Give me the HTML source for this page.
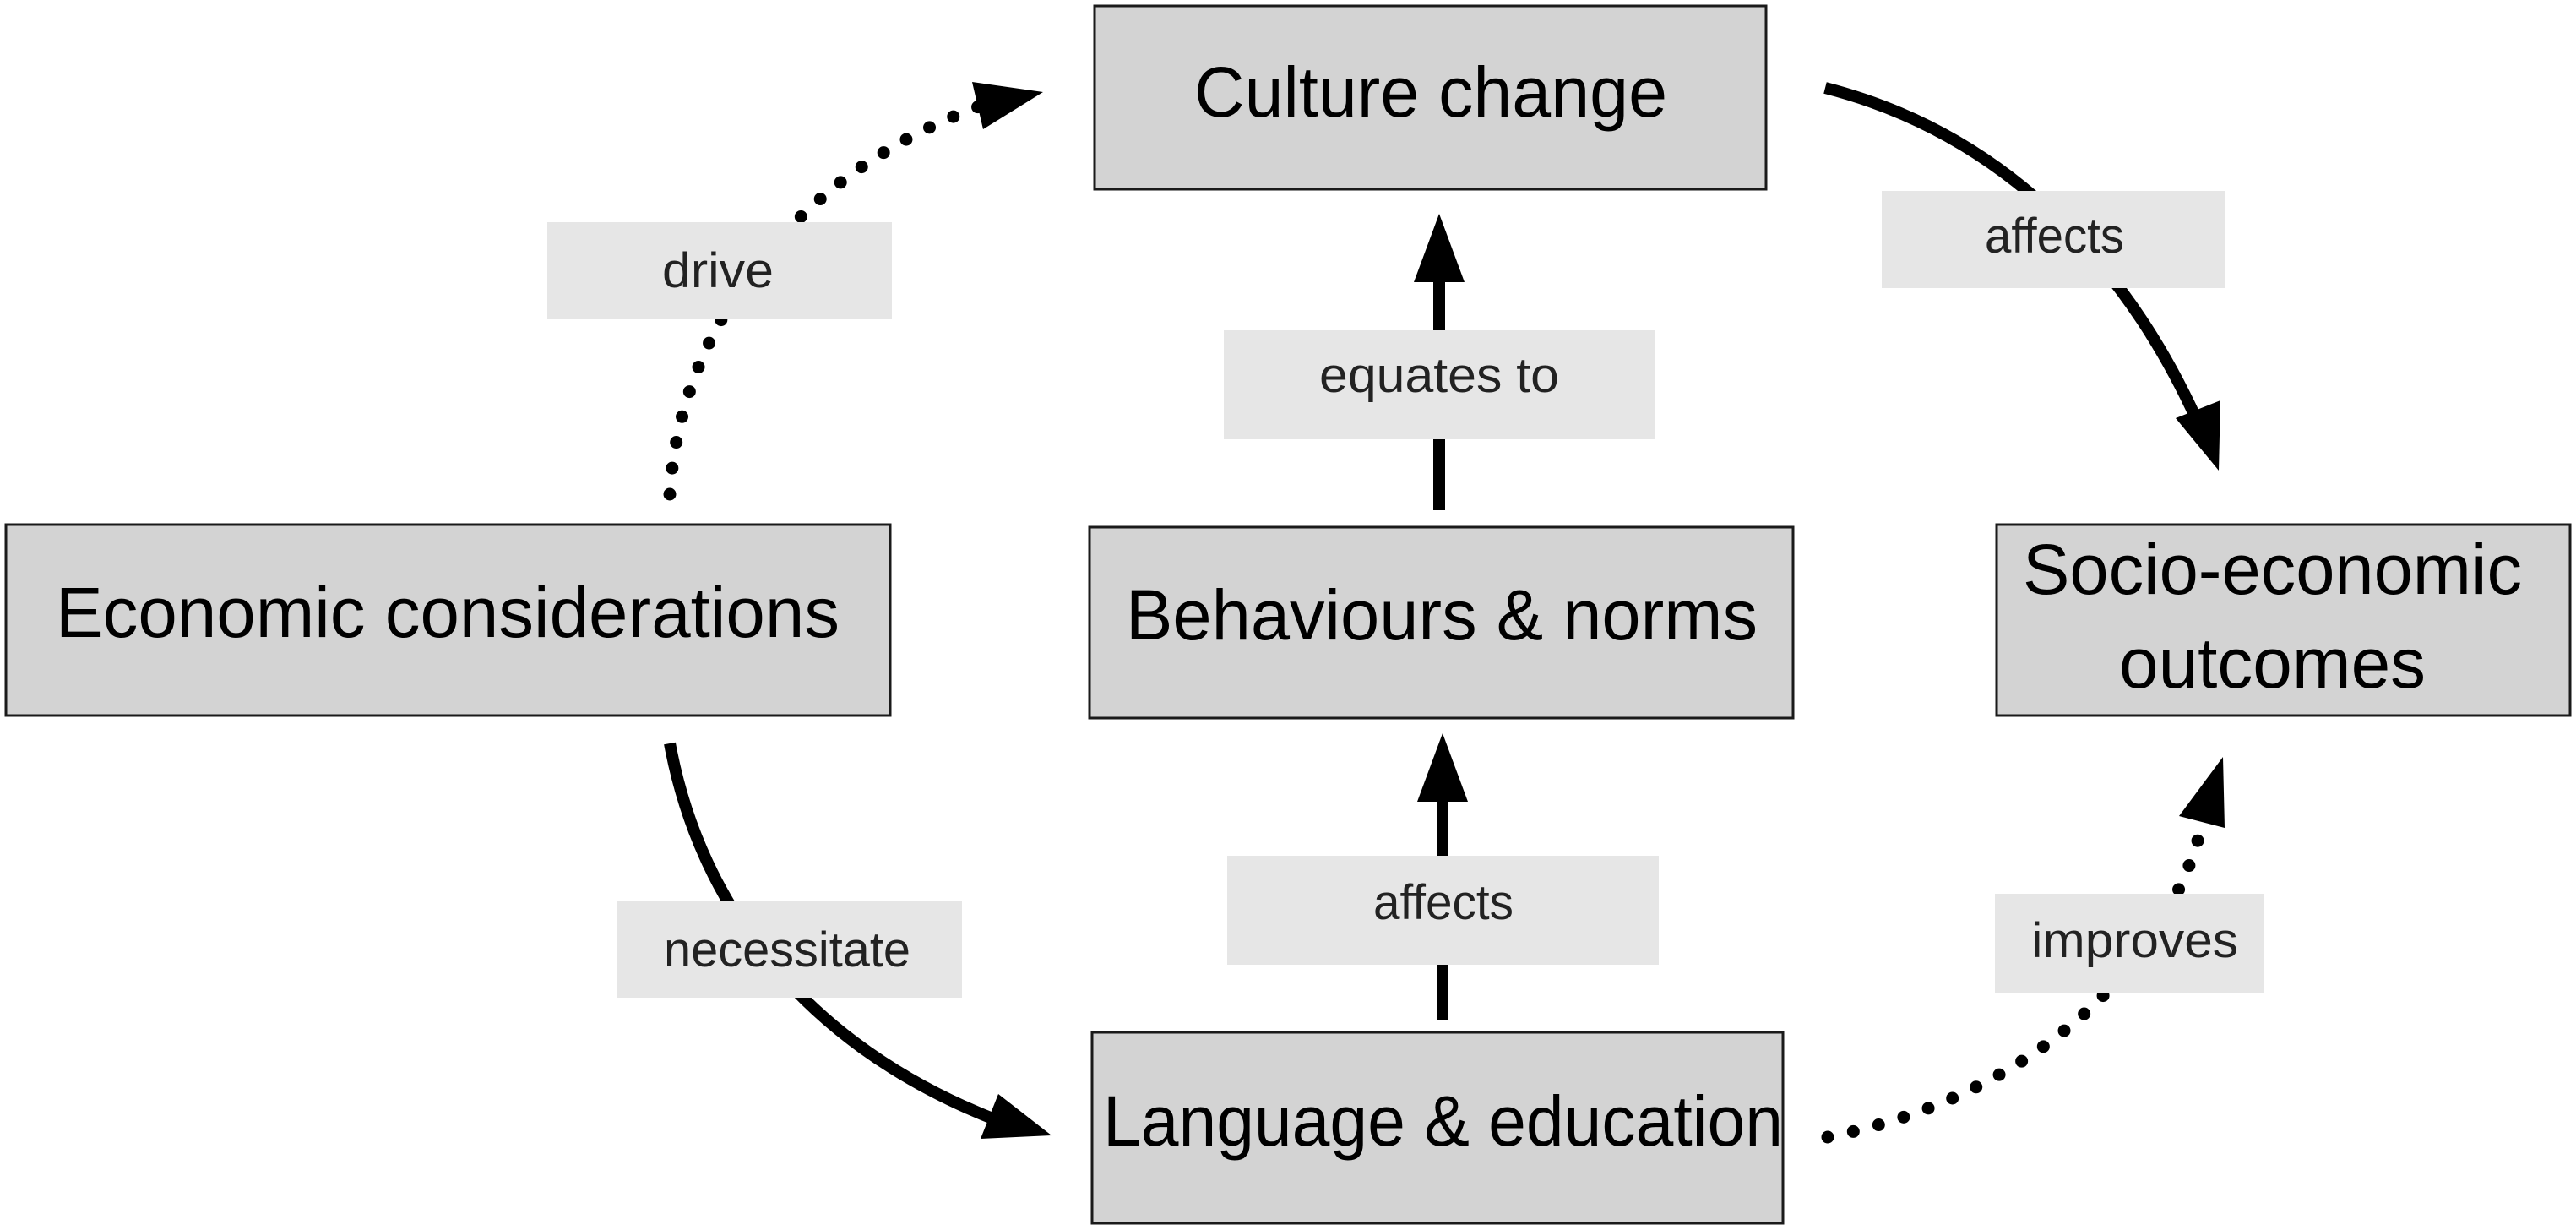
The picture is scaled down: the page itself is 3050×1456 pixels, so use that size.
<!DOCTYPE html>
<html><head><meta charset="utf-8"><style>
html,body{margin:0;padding:0;background:#fff;}
svg{display:block;}
text{font-family:"Liberation Sans",sans-serif;}
.bt{font-size:84px;fill:#000;}
.lt{font-size:58px;fill:#222;}
</style></head><body>
<svg width="3050" height="1456" viewBox="0 0 3050 1456" xmlns="http://www.w3.org/2000/svg">
<!-- connectors -->
<g fill="none" stroke="#000" stroke-linecap="round">
<path d="M793,585 C 805,380 950,200 1165,124" stroke-width="15" stroke-dasharray="0 31"/>
<path d="M2164,1346 C 2400,1300 2560,1150 2605,985" stroke-width="15" stroke-dasharray="0 31"/>
</g>
<g fill="none" stroke="#000" stroke-width="14">
<path d="M793,880 C 830,1080 960,1240 1180,1326"/>
<path d="M2161,104 C 2380,160 2520,320 2600,495"/>
<line x1="1704" y1="604" x2="1704" y2="330"/>
<line x1="1708" y1="1207" x2="1708" y2="945"/>
</g>
<g fill="#000">
<polygon points="1151,97 1235,109 1164,153"/>
<polygon points="1182,1295 1245,1344 1161,1348"/>
<polygon points="2576,495 2629,474 2627,557"/>
<polygon points="2580,966 2632,896 2634,980"/>
<polygon points="1674,334 1704,253 1734,334"/>
<polygon points="1678,949 1708,868 1738,949"/>
</g>
<!-- labels -->
<g fill="#e6e6e6">
<rect x="648" y="263" width="408" height="115"/>
<rect x="731" y="1066" width="408" height="115"/>
<rect x="1449" y="391" width="510" height="129"/>
<rect x="1453" y="1013" width="511" height="129"/>
<rect x="2228" y="226" width="407" height="115"/>
<rect x="2362" y="1058" width="319" height="118"/>
</g>
<text class="lt" x="784" y="340" textLength="132" lengthAdjust="spacingAndGlyphs">drive</text>
<text class="lt" x="786" y="1144" textLength="292" lengthAdjust="spacingAndGlyphs">necessitate</text>
<text class="lt" x="1562" y="464" textLength="284" lengthAdjust="spacingAndGlyphs">equates to</text>
<text class="lt" x="1626" y="1088" textLength="166" lengthAdjust="spacingAndGlyphs">affects</text>
<text class="lt" x="2350" y="299" textLength="165" lengthAdjust="spacingAndGlyphs">affects</text>
<text class="lt" x="2405" y="1133" textLength="245" lengthAdjust="spacingAndGlyphs">improves</text>
<!-- boxes -->
<g fill="#d3d3d3" stroke="#1a1a1a" stroke-width="3">
<rect x="7" y="621" width="1047" height="226"/>
<rect x="1296" y="7" width="795" height="217"/>
<rect x="1290" y="624" width="833" height="226"/>
<rect x="1293" y="1222" width="818" height="226"/>
<rect x="2364" y="621" width="679" height="226"/>
</g>
<text class="bt" x="66" y="754" textLength="928" lengthAdjust="spacingAndGlyphs">Economic considerations</text>
<text class="bt" x="1414" y="138" textLength="560" lengthAdjust="spacingAndGlyphs">Culture change</text>
<text class="bt" x="1333" y="757" textLength="748" lengthAdjust="spacingAndGlyphs">Behaviours &amp; norms</text>
<text class="bt" x="1306" y="1356" textLength="805" lengthAdjust="spacingAndGlyphs">Language &amp; education</text>
<text class="bt" x="2395" y="703" textLength="591" lengthAdjust="spacingAndGlyphs">Socio-economic</text>
<text class="bt" x="2509" y="814" textLength="363" lengthAdjust="spacingAndGlyphs">outcomes</text>
</svg>
</body></html>
